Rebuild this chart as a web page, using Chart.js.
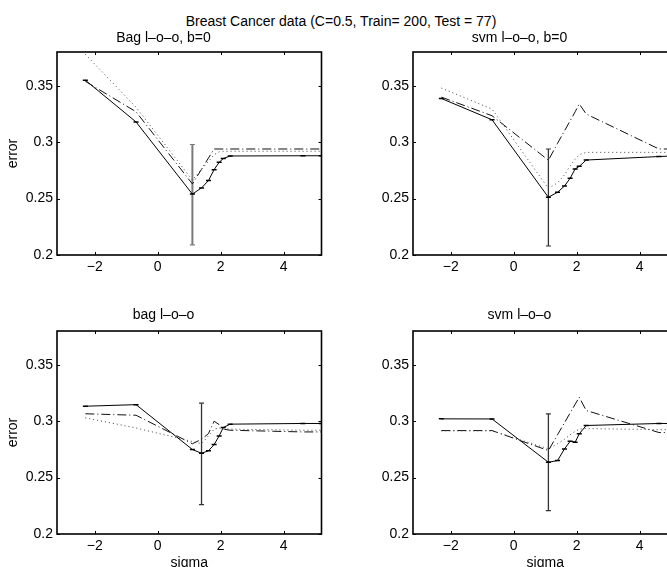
<!DOCTYPE html>
<html>
<head>
<meta charset="utf-8">
<title>Breast Cancer data</title>
<script src="https://cdn.jsdelivr.net/npm/chart.js@4.4.1/dist/chart.umd.min.js"></script>
<style>
  html, body { margin: 0; padding: 0; background: #fff; overflow: hidden; }
  body { width: 667px; height: 567px; position: relative; font-family: "Liberation Sans", Arial, sans-serif; }
  #suptitle { position: absolute; left: 0; top: 12.5px; width: 682px; text-align: center; font-size: 14px; line-height: 17px; color: #000; white-space: nowrap; }
  canvas { position: absolute; }
</style>
</head>
<body>
<div id="suptitle">Breast Cancer data (C=0.5, Train= 200, Test = 77)</div>
<canvas id="p0" width="327" height="300" style="left:0;top:0"></canvas>
<canvas id="p1" width="327" height="300" style="left:356px;top:0"></canvas>
<canvas id="p2" width="327" height="300" style="left:0;top:279px"></canvas>
<canvas id="p3" width="327" height="300" style="left:356px;top:279px"></canvas>
<script>
// x positions (log sigma) shared by every curve
const sigmaLog = [-2.30, -0.69, 1.10, 1.39, 1.61, 1.79, 1.95, 2.08, 2.30, 4.61, 5.19];

const xTicks = [-2, 0, 2, 4];
const yTicks = [0.2, 0.25, 0.3, 0.35];

const panelTitles = ['Bag l\u2013o\u2013o, b=0', 'svm l\u2013o\u2013o, b=0', 'bag l\u2013o\u2013o', 'svm l\u2013o\u2013o'];

// Bag l-o-o, b=0
const bagB0Solid   = [0.355, 0.318, 0.254, 0.2595, 0.266, 0.2757, 0.2822, 0.2855, 0.2878, 0.288, 0.288];
const bagB0DashDot = [0.354, 0.327, 0.263, 0.276, 0.286, 0.294, 0.294, 0.294, 0.294, 0.294, 0.294];
const bagB0Dotted  = [0.378, 0.331, 0.2665, 0.276, 0.283, 0.289, 0.2915, 0.292, 0.292, 0.292, 0.292];

// svm l-o-o, b=0
const svmB0Solid   = [0.3388, 0.3199, 0.2512, 0.2556, 0.2611, 0.268, 0.2763, 0.2786, 0.2842, 0.2873, 0.288];
const svmB0DashDot = [0.340, 0.3235, 0.284, 0.299, 0.310, 0.319, 0.327, 0.334, 0.325, 0.294, 0.294];
const svmB0Dotted  = [0.348, 0.3294, 0.259, 0.264, 0.271, 0.279, 0.285, 0.289, 0.291, 0.291, 0.291];

// bag l-o-o
const bagSolid   = [0.3133, 0.3147, 0.2749, 0.2716, 0.2738, 0.2793, 0.287, 0.2944, 0.2974, 0.298, 0.298];
const bagDashDot = [0.3066, 0.3053, 0.280, 0.284, 0.289, 0.300, 0.297, 0.293, 0.292, 0.2905, 0.2905];
const bagDotted  = [0.303, 0.294, 0.282, 0.280, 0.287, 0.293, 0.294, 0.293, 0.293, 0.292, 0.292];

// svm l-o-o
const svmSolid   = [0.3021, 0.302, 0.2636, 0.2651, 0.2754, 0.2822, 0.2814, 0.2888, 0.2962, 0.298, 0.298];
const svmDashDot = [0.2917, 0.2917, 0.274, 0.288, 0.2986, 0.3073, 0.315, 0.3213, 0.3095, 0.290, 0.290];
const svmDotted  = [0.2915, 0.2915, 0.2755, 0.280, 0.284, 0.288, 0.291, 0.293, 0.2935, 0.2925, 0.2925];

// one big error bar per panel
const errX    = [1.10, 1.10, 1.39, 1.10];
const errLow  = [0.209, 0.208, 0.226, 0.2207];
const errHigh = [0.298, 0.294, 0.316, 0.3065];

const FONT_SIZE = 14;
const LINE_H = FONT_SIZE * 1.2;

Chart.defaults.font.family = '"Liberation Sans", Arial, Helvetica, sans-serif';
Chart.defaults.font.size = FONT_SIZE;
Chart.defaults.color = '#000';

const framePlugin = {
  id: 'frame',
  afterDatasetsDraw(chart) {
    const { ctx, chartArea: a, scales: { x, y } } = chart;
    ctx.save();
    ctx.strokeStyle = '#000';
    ctx.lineWidth = 1;
    ctx.beginPath();
    xTicks.forEach((v) => {
      const px = Math.round(x.getPixelForValue(v)) + 0.5;
      ctx.moveTo(px, a.bottom); ctx.lineTo(px, a.bottom - 3);
      ctx.moveTo(px, a.top); ctx.lineTo(px, a.top + 3);
    });
    yTicks.forEach((v) => {
      const py = Math.round(y.getPixelForValue(v)) + 0.5;
      ctx.moveTo(a.left, py); ctx.lineTo(a.left + 3, py);
      ctx.moveTo(a.right, py); ctx.lineTo(a.right - 3, py);
    });
    ctx.stroke();
    ctx.lineWidth = 1.6;
    ctx.strokeRect(a.left, a.top, a.right - a.left, a.bottom - a.top);
    ctx.restore();
  }
};

function toPoints(values) {
  return sigmaLog.map((x, i) => ({ x, y: values[i] }));
}

function buildPanel(id, idx, solid, dashDot, dotted, opts) {
  const datasets = [
    {
      data: toPoints(dotted),
      borderColor: '#444',
      borderWidth: 1,
      borderDash: [1, 3],
      pointRadius: 0
    },
    {
      data: toPoints(dashDot),
      borderColor: '#111',
      borderWidth: 1,
      borderDash: [9, 3, 1, 3],
      pointRadius: 0
    },
    {
      data: toPoints(solid),
      borderColor: '#000',
      borderWidth: 1,
      pointStyle: 'line',
      pointRadius: 2.5,
      pointBorderWidth: 1.5,
      pointBorderColor: '#000'
    },
    {
      data: [{ x: errX[idx], y: errLow[idx] }, { x: errX[idx], y: errHigh[idx] }],
      borderColor: opts.errColor,
      borderWidth: opts.errWidth,
      pointStyle: 'line',
      pointRadius: 2.5,
      pointBorderWidth: 1.2,
      pointBorderColor: opts.errColor
    }
  ];

  return new Chart(document.getElementById(id), {
    type: 'scatter',
    data: { datasets: datasets.map((d) => ({ showLine: true, tension: 0, ...d })) },
    options: {
      responsive: false,
      animation: false,
      events: [],
      layout: { padding: 0 },
      plugins: {
        legend: { display: false },
        tooltip: { enabled: false },
        title: {
          display: true,
          text: panelTitles[idx],
          font: { size: FONT_SIZE, weight: 'normal', lineHeight: 1.2 },
          color: '#000',
          padding: { top: opts.titleTop, bottom: 52 - LINE_H - opts.titleTop }
        }
      },
      scales: {
        x: {
          type: 'linear',
          min: -3.2,
          max: 5.2,
          grid: { display: false, drawTicks: false },
          border: { display: false },
          afterBuildTicks: (scale) => { scale.ticks = xTicks.map((value) => ({ value })); },
          afterFit: (scale) => { scale.height = 45; },
          ticks: {
            padding: 3.3,
            maxRotation: 0,
            callback: (v) => (v < 0 ? '\u2212' + Math.abs(v) : String(v))
          },
          title: {
            display: opts.xTitle,
            text: 'sigma',
            font: { size: FONT_SIZE, lineHeight: 1.2 },
            padding: { top: 0, bottom: 7.9 }
          }
        },
        y: {
          type: 'linear',
          min: 0.2,
          max: 0.38,
          grid: { display: false, drawTicks: false },
          border: { display: false },
          afterBuildTicks: (scale) => { scale.ticks = yTicks.map((value) => ({ value })); },
          afterFit: (scale) => { scale.width = 57; },
          ticks: {
            padding: 4,
            callback: (v) => String(v)
          },
          title: {
            display: opts.yTitle,
            text: 'error',
            font: { size: FONT_SIZE, lineHeight: 1.2 },
            padding: { top: 4.9, bottom: 0 }
          }
        }
      }
    },
    plugins: [framePlugin]
  });
}

buildPanel('p0', 0, bagB0Solid, bagB0DashDot, bagB0Dotted, { titleTop: 29.3, xTitle: false, yTitle: true, errColor: '#7a7a7a', errWidth: 2 });
buildPanel('p1', 1, svmB0Solid, svmB0DashDot, svmB0Dotted, { titleTop: 29.3, xTitle: false, yTitle: false, errColor: '#333', errWidth: 1.3 });
buildPanel('p2', 2, bagSolid, bagDashDot, bagDotted, { titleTop: 27.6, xTitle: true, yTitle: true, errColor: '#333', errWidth: 1.3 });
buildPanel('p3', 3, svmSolid, svmDashDot, svmDotted, { titleTop: 27.6, xTitle: true, yTitle: false, errColor: '#333', errWidth: 1.3 });
</script>
</body>
</html>
